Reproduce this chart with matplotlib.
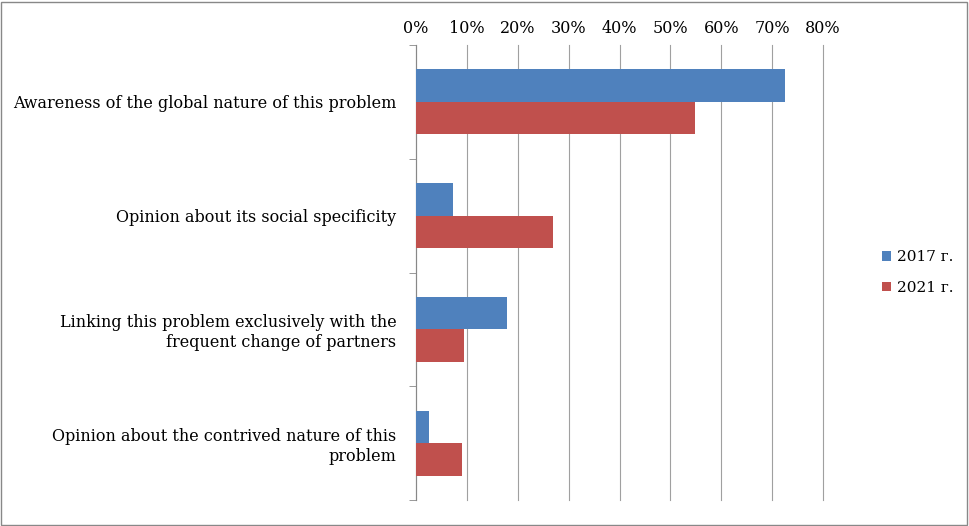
import numpy as np
import matplotlib
matplotlib.use("Agg")
import matplotlib.pyplot as plt
from matplotlib.ticker import FixedLocator, PercentFormatter

categories = [
    "Awareness of the global nature of this problem",
    "Opinion about its social specificity",
    "Linking this problem exclusively with the\nfrequent change of partners",
    "Opinion about the contrived nature of this\nproblem",
]
series_labels = ["2017 г.", "2021 г."]
values_2017 = [72.5, 7.2, 17.9, 2.6]
values_2021 = [54.8, 26.9, 9.4, 9.0]
colors = ["#4f81bd", "#c0504d"]

plt.rcParams["font.family"] = ["DejaVu Serif"]
fig = plt.figure(figsize=(9.69, 5.26), dpi=100)
ax = fig.add_axes([416 / 969, 26 / 526, 407 / 969, 455 / 526])

y = np.arange(len(categories))
h = 0.285
ax.barh(y - h / 2, values_2017, height=h, color=colors[0], label=series_labels[0], zorder=3)
ax.barh(y + h / 2, values_2021, height=h, color=colors[1], label=series_labels[1], zorder=3)

ax.set_ylim(len(categories) - 0.5, -0.5)
ax.set_xlim(0, 80)
ax.set_xticks(np.arange(0, 81, 10))
ax.xaxis.set_major_formatter(PercentFormatter(decimals=0))
ax.xaxis.tick_top()
ax.tick_params(axis="x", length=0, labelsize=11.5, pad=6)
ax.grid(axis="x", color="#a0a0a0", lw=0.8, zorder=0, clip_on=False)
for gl in ax.get_xgridlines():
    gl.set_clip_on(False)

ax.set_yticks(y)
ax.set_yticklabels(categories, fontsize=11.5)
ax.yaxis.set_minor_locator(FixedLocator(np.arange(-0.5, len(categories), 1)))
ax.tick_params(axis="y", which="major", length=0, pad=14)
ax.tick_params(axis="y", which="minor", length=5, color="#888888")
for lab in ax.get_yticklabels():
    lab.set_horizontalalignment("right")
    lab.set_multialignment("right")

for s in ["top", "right", "bottom"]:
    ax.spines[s].set_visible(False)
ax.spines["left"].set_color("#888888")

ax.legend(loc="center left", bbox_to_anchor=(1.11, 0.5), frameon=False,
          fontsize=11, handlelength=0.6, handleheight=0.6, labelspacing=1.1,
          handletextpad=0.4)

fig.patches.append(plt.Rectangle((0.001, 0.002), 0.997, 0.995, transform=fig.transFigure,
                                 fill=False, edgecolor="#888888", lw=1))
fig.savefig("out.png", dpi=100)
